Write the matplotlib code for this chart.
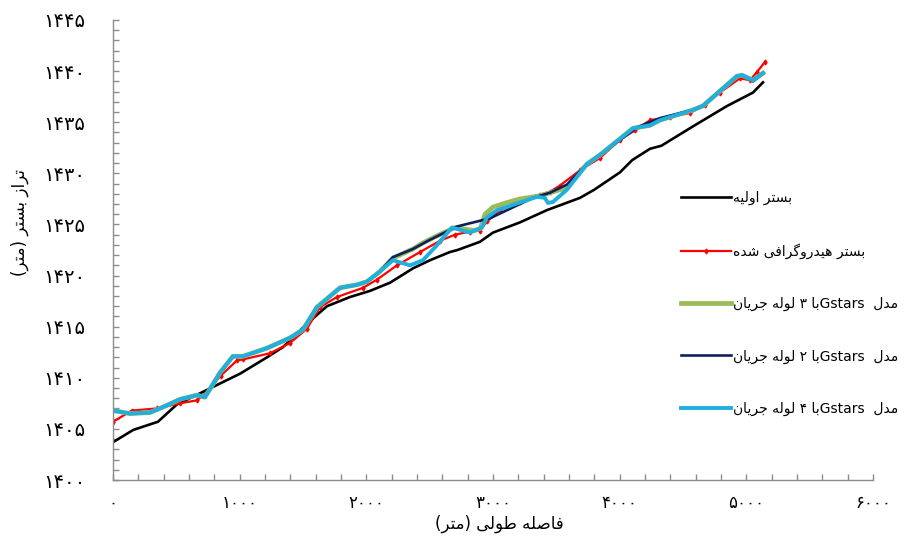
import re
import matplotlib
matplotlib.use('Agg')
import matplotlib.pyplot as plt
from matplotlib.ticker import MultipleLocator, FixedLocator, FixedFormatter

# --- data ---
black_x = [0, 160, 355, 505, 690, 1003, 1216, 1342, 1532, 1689, 1871, 2029, 2187, 2368,
           2503, 2660, 2720, 2897, 3000, 3213, 3426, 3687, 3800, 4003, 4100, 4240, 4330,
           4580, 4850, 5053, 5132]
black_y = [1403.7, 1404.9, 1405.7, 1407.4, 1408.5, 1410.4, 1412.0, 1413.0, 1415.3, 1417.0,
           1417.9, 1418.5, 1419.3, 1420.7, 1421.5, 1422.3, 1422.5, 1423.3, 1424.2, 1425.2,
           1426.4, 1427.6, 1428.4, 1430.1, 1431.3, 1432.4, 1432.7, 1434.6, 1436.6, 1437.9,
           1438.9]

red_x = [0, 150, 347, 529, 663, 742, 850, 979, 1026, 1240, 1397, 1531, 1634, 1768, 1974,
         2084, 2242, 2424, 2582, 2700, 2818, 2897, 2953, 3055, 3213, 3371, 3450, 3529,
         3687, 3845, 4003, 4121, 4240, 4397, 4555, 4674, 4792, 4950, 5029, 5084, 5147]
red_y = [1405.7, 1406.8, 1407.0, 1407.5, 1407.8, 1408.6, 1410.2, 1411.7, 1411.8, 1412.4,
         1413.4, 1414.8, 1416.9, 1417.9, 1418.8, 1419.6, 1421.0, 1422.3, 1423.4, 1424.0,
         1424.3, 1424.4, 1425.3, 1426.4, 1427.2, 1427.9, 1428.2, 1428.8, 1430.3, 1431.5,
         1433.3, 1434.2, 1435.2, 1435.5, 1435.9, 1436.7, 1437.9, 1439.3, 1439.1, 1439.9,
         1440.9]

green_x = [0, 134, 292, 426, 529, 663, 726, 845, 947, 1026, 1216, 1397, 1500, 1610, 1792,
           1926, 2005, 2108, 2210, 2368, 2447, 2560, 2700, 2850, 2900, 2937, 3000, 3100,
           3213, 3371, 3450, 3584, 3742, 3845, 4105, 4240, 4318, 4579, 4658, 4926, 4966,
           5053, 5132]
green_y = [1406.8, 1406.5, 1406.6, 1407.3, 1407.9, 1408.3, 1408.1, 1410.5, 1412.1, 1412.1,
           1412.9, 1413.9, 1414.7, 1416.9, 1418.8, 1419.1, 1419.4, 1420.4, 1421.7, 1422.6,
           1423.2, 1423.9, 1424.7, 1424.4, 1424.6, 1426.0, 1426.7, 1427.1, 1427.5, 1427.8,
           1428.1, 1428.6, 1430.9, 1431.8, 1434.4, 1434.7, 1435.2, 1436.2, 1436.6, 1439.5,
           1439.6, 1439.1, 1439.8]

navy_x = [0, 134, 292, 426, 529, 663, 726, 845, 947, 1026, 1216, 1397, 1500, 1610, 1792,
          1926, 2005, 2108, 2210, 2368, 2503, 2716, 2976, 3316, 3450, 3584, 3742, 3845,
          4137, 4318, 4579, 4658, 4926, 4966, 5053, 5132]
navy_y = [1406.8, 1406.5, 1406.6, 1407.3, 1407.9, 1408.3, 1408.1, 1410.5, 1412.1, 1412.1,
          1412.9, 1413.9, 1414.7, 1416.9, 1418.8, 1419.1, 1419.4, 1420.4, 1421.8, 1422.6,
          1423.5, 1424.8, 1425.6, 1427.6, 1428.1, 1428.9, 1430.9, 1431.8, 1434.5, 1435.4,
          1436.2, 1436.6, 1439.5, 1439.6, 1439.0, 1439.8]

cyan_x = [0, 134, 292, 426, 529, 663, 726, 845, 947, 1026, 1216, 1397, 1500, 1610, 1792,
          1926, 2005, 2108, 2210, 2345, 2447, 2560, 2676, 2818, 2913, 2953, 3032, 3347,
          3410, 3434, 3474, 3584, 3742, 3845, 4105, 4240, 4318, 4579, 4658, 4926, 4966,
          5053, 5132]
cyan_y = [1406.8, 1406.5, 1406.6, 1407.3, 1407.9, 1408.3, 1408.1, 1410.5, 1412.1, 1412.1,
          1412.9, 1413.9, 1414.7, 1416.9, 1418.8, 1419.1, 1419.4, 1420.4, 1421.5, 1421.0,
          1421.5, 1423.0, 1424.7, 1424.2, 1424.7, 1425.7, 1426.4, 1427.7, 1427.6, 1427.1,
          1427.2, 1428.4, 1430.9, 1431.8, 1434.4, 1434.7, 1435.2, 1436.2, 1436.6, 1439.5,
          1439.6, 1439.1, 1439.8]

x_ticks = [0, 1000, 2000, 3000, 4000, 5000, 6000]
x_tick_labels = ['۰', '۱۰۰۰', '۲۰۰۰', '۳۰۰۰', '۴۰۰۰', '۵۰۰۰', '۶۰۰۰']
y_ticks = [1400, 1405, 1410, 1415, 1420, 1425, 1430, 1435, 1440, 1445]
y_tick_labels = ['۱۴۰۰', '۱۴۰۵', '۱۴۱۰', '۱۴۱۵', '۱۴۲۰', '۱۴۲۵', '۱۴۳۰', '۱۴۳۵', '۱۴۴۰', '۱۴۴۵']

labels = ['بستر اولیه', 'بستر هیدروگرافی شده', 'مدل  Gstarsبا ۳ لوله جریان',
          'مدل  Gstarsبا ۲ لوله جریان', 'مدل  Gstarsبا ۴ لوله جریان']
xlabel = 'فاصله طولی (متر)'
ylabel = 'تراز بستر (متر)'

# matplotlib has no arabic shaping, so do it by hand with presentation forms
# (isolated, final, initial, medial)
FORMS = {
    'ا': ('\uFE8D', '\uFE8E', None, None),
    'ب': ('\uFE8F', '\uFE90', '\uFE91', '\uFE92'),
    'ت': ('\uFE95', '\uFE96', '\uFE97', '\uFE98'),
    'ج': ('\uFE9D', '\uFE9E', '\uFE9F', '\uFEA0'),
    'د': ('\uFEA9', '\uFEAA', None, None),
    'ر': ('\uFEAD', '\uFEAE', None, None),
    'ز': ('\uFEAF', '\uFEB0', None, None),
    'س': ('\uFEB1', '\uFEB2', '\uFEB3', '\uFEB4'),
    'ش': ('\uFEB5', '\uFEB6', '\uFEB7', '\uFEB8'),
    'ص': ('\uFEB9', '\uFEBA', '\uFEBB', '\uFEBC'),
    'ط': ('\uFEC1', '\uFEC2', '\uFEC3', '\uFEC4'),
    'ف': ('\uFED1', '\uFED2', '\uFED3', '\uFED4'),
    'گ': ('\uFB92', '\uFB93', '\uFB94', '\uFB95'),
    'ل': ('\uFEDD', '\uFEDE', '\uFEDF', '\uFEE0'),
    'م': ('\uFEE1', '\uFEE2', '\uFEE3', '\uFEE4'),
    'ن': ('\uFEE5', '\uFEE6', '\uFEE7', '\uFEE8'),
    'ه': ('\uFEE9', '\uFEEA', '\uFEEB', '\uFEEC'),
    'و': ('\uFEED', '\uFEEE', None, None),
    'ی': ('\uFBFC', '\uFBFD', '\uFBFE', '\uFBFF'),
}


def fa(text):
    out = []
    for i, c in enumerate(text):
        if c not in FORMS:
            out.append(c)
            continue
        prev = text[i - 1] if i > 0 else ''
        nxt = text[i + 1] if i + 1 < len(text) else ''
        jp = prev in FORMS and FORMS[prev][2] is not None
        jn = FORMS[c][2] is not None and nxt in FORMS
        iso, fin, ini, med = FORMS[c]
        out.append(med if (jp and jn) else fin if jp else ini if jn else iso)
    tokens = re.findall(r'[A-Za-z0-9\u06F0-\u06F9]+|.', ''.join(out))
    mirror = {'(': ')', ')': '('}
    return ''.join(mirror.get(t, t) for t in reversed(tokens))


plt.rcParams['font.family'] = ['DejaVu Sans']
plt.rcParams['lines.solid_joinstyle'] = 'round'

fig = plt.figure(figsize=(9.14, 5.37), dpi=100)
ax = fig.add_axes([0.1236, 0.1061, 0.8315, 0.8567])

ax.plot(black_x, black_y, color='black', lw=1.9, label=fa(labels[0]))
ax.plot(red_x, red_y, color='#ff0000', lw=1.6, marker='d', ms=2.5, label=fa(labels[1]))
ax.plot(green_x, green_y, color='#9bbb59', lw=3.4, label=fa(labels[2]))
ax.plot(navy_x, navy_y, color='#0f1f5c', lw=1.9, label=fa(labels[3]))
ax.plot(cyan_x, cyan_y, color='#1fb0e0', lw=2.8, label=fa(labels[4]))

ax.set_xlim(0, 6000)
ax.set_ylim(1400, 1445)

ax.xaxis.set_major_locator(FixedLocator(x_ticks))
ax.xaxis.set_major_formatter(FixedFormatter(x_tick_labels))
ax.yaxis.set_major_locator(FixedLocator(y_ticks))
ax.yaxis.set_major_formatter(FixedFormatter(y_tick_labels))
ax.xaxis.set_minor_locator(MultipleLocator(200))
ax.yaxis.set_minor_locator(MultipleLocator(1))

for s in ['top', 'right']:
    ax.spines[s].set_visible(False)
for s in ['left', 'bottom']:
    ax.spines[s].set_color('#8c8c8c')
    ax.spines[s].set_linewidth(1.0)

ax.tick_params(which='both', direction='in', color='#8c8c8c', length=4, width=1)
ax.tick_params(axis='y', which='major', pad=20, labelsize=14)
ax.tick_params(axis='x', which='major', pad=10, labelsize=12)

ax.set_xlabel(fa(xlabel), fontsize=12)
ax.xaxis.set_label_coords(0.509, -0.075)
ax.set_ylabel(fa(ylabel), fontsize=12)
ax.yaxis.set_label_coords(-0.11, 0.56)

fig.legend(loc='upper left', bbox_to_anchor=(0.745, 0.645), frameon=False,
           fontsize=10, labelspacing=2.75, handlelength=3.6, handletextpad=0.15,
           borderpad=0, borderaxespad=0)

plt.savefig('out.png', dpi=100)
